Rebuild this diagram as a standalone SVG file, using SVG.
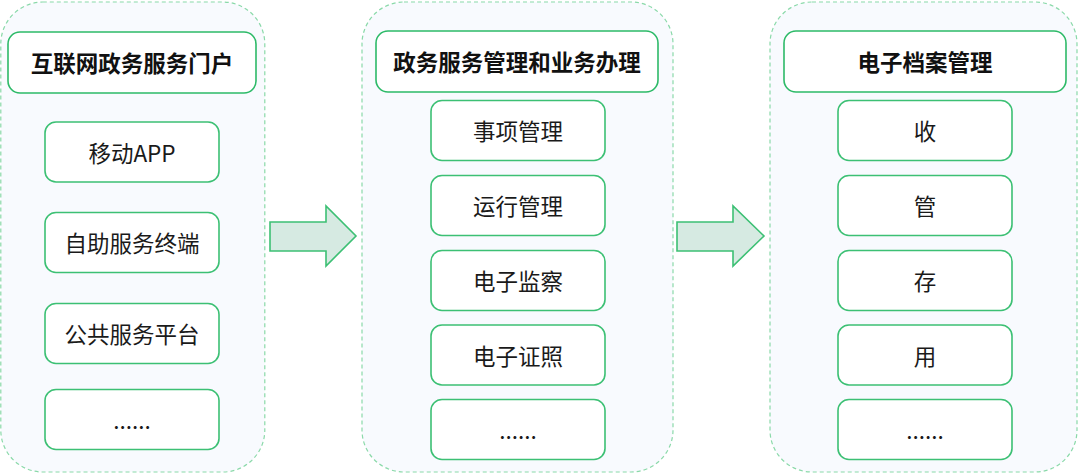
<svg xmlns="http://www.w3.org/2000/svg" width="1080" height="474" viewBox="0 0 1080 474">
<defs>
<style>
.panel{fill:#f8fafe;stroke:#8ad9a9;stroke-width:1.2;stroke-dasharray:4 3}
.hdr{fill:#ffffff;stroke:#2dba68;stroke-width:1.6}
.box{fill:#ffffff;stroke:#3cc074;stroke-width:1.6}
.ht{font-family:"Noto Sans CJK SC","Noto Sans",sans-serif;font-size:22.5px;font-weight:bold;fill:#111;text-anchor:middle;dominant-baseline:central}
.t{font-family:"Noto Sans CJK SC","Noto Sans",sans-serif;font-size:22.5px;fill:#1a1a1a;text-anchor:middle;dominant-baseline:central}
.arrow{fill:#d6eae2;stroke:#3cc074;stroke-width:1.6;stroke-linejoin:miter}
</style>
</defs>
<rect width="1080" height="474" fill="#ffffff"/>
<g id="panel1">
<rect class="panel" x="0.8" y="2" width="264" height="470" rx="42"/>
<g id="p1-header"><rect class="hdr" x="8" y="32" width="248" height="61" rx="12"/><text class="ht" x="132" y="62">互联网政务服务门户</text></g>
<g id="p1-a"><rect class="box" x="45" y="122" width="174" height="60" rx="11"/><text class="t" x="132" y="151.5">移动APP</text></g>
<g id="p1-b"><rect class="box" x="45" y="212.5" width="174" height="60" rx="11"/><text class="t" x="132" y="242">自助服务终端</text></g>
<g id="p1-c"><rect class="box" x="45" y="303.5" width="174" height="60" rx="11"/><text class="t" x="132" y="333">公共服务平台</text></g>
<g id="p1-d"><rect class="box" x="45" y="389.5" width="174" height="60" rx="11"/><text class="t" x="132" y="419">......</text></g>
</g>
<g id="panel2">
<rect class="panel" x="362" y="2" width="311" height="470" rx="42"/>
<g id="p2-header"><rect class="hdr" x="376" y="31" width="282" height="61" rx="12"/><text class="ht" x="517" y="61">政务服务管理和业务办理</text></g>
<g id="p2-a"><rect class="box" x="431" y="100.5" width="174" height="60" rx="11"/><text class="t" x="518" y="130">事项管理</text></g>
<g id="p2-b"><rect class="box" x="431" y="175.5" width="174" height="60" rx="11"/><text class="t" x="518" y="205">运行管理</text></g>
<g id="p2-c"><rect class="box" x="431" y="250.5" width="174" height="60" rx="11"/><text class="t" x="518" y="280">电子监察</text></g>
<g id="p2-d"><rect class="box" x="431" y="325" width="174" height="60" rx="11"/><text class="t" x="518" y="354.5">电子证照</text></g>
<g id="p2-e"><rect class="box" x="431" y="399.5" width="174" height="60" rx="11"/><text class="t" x="518" y="429">......</text></g>
</g>
<g id="panel3">
<rect class="panel" x="770" y="2" width="307" height="470" rx="42"/>
<g id="p3-header"><rect class="hdr" x="784" y="31" width="282" height="61" rx="12"/><text class="ht" x="925" y="61">电子档案管理</text></g>
<g id="p3-a"><rect class="box" x="838" y="100.5" width="174" height="60" rx="11"/><text class="t" x="925" y="130">收</text></g>
<g id="p3-b"><rect class="box" x="838" y="175.5" width="174" height="60" rx="11"/><text class="t" x="925" y="205">管</text></g>
<g id="p3-c"><rect class="box" x="838" y="250.5" width="174" height="60" rx="11"/><text class="t" x="925" y="280">存</text></g>
<g id="p3-d"><rect class="box" x="838" y="325" width="174" height="60" rx="11"/><text class="t" x="925" y="354.5">用</text></g>
<g id="p3-e"><rect class="box" x="838" y="399.5" width="174" height="60" rx="11"/><text class="t" x="925" y="429">......</text></g>
</g>
<g id="connectors">
<polygon class="arrow" points="270,222 326,222 326,206 356,236 326,266 326,251 270,251"/>
<polygon class="arrow" points="677,222 733,222 733,206 764,236 733,266 733,251 677,251"/>
</g>
</svg>
